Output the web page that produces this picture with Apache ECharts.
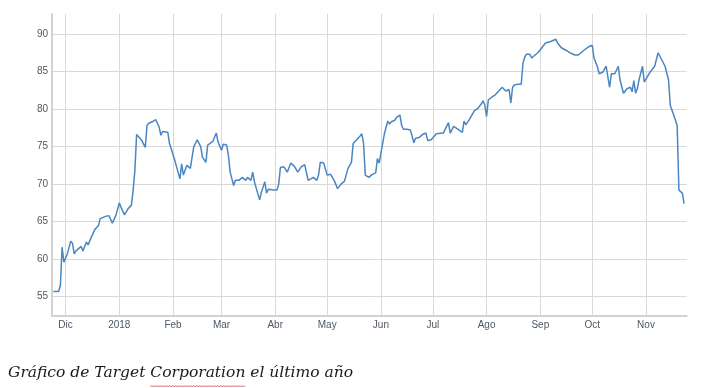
<!DOCTYPE html>
<html><head><meta charset="utf-8">
<script src="https://cdn.jsdelivr.net/npm/echarts@6/dist/echarts.min.js"></script>
<style>html,body{margin:0;padding:0;background:#fff}#c{width:703px;height:388px}</style>
</head><body><div id="c"></div>
<script>
const dates = [
'2017-11-24','2017-11-27','2017-11-28','2017-11-29','2017-11-30','2017-12-02','2017-12-04','2017-12-05','2017-12-06','2017-12-07',
'2017-12-10','2017-12-11','2017-12-13','2017-12-14','2017-12-16','2017-12-18','2017-12-20','2017-12-21','2017-12-24','2017-12-26',
'2017-12-28','2017-12-30','2018-01-01','2018-01-02','2018-01-04','2018-01-06','2018-01-08','2018-01-09','2018-01-10','2018-01-11',
'2018-01-14','2018-01-16','2018-01-17','2018-01-18','2018-01-20','2018-01-22','2018-01-24','2018-01-25','2018-01-26','2018-01-29',
'2018-01-30','2018-01-31','2018-02-02','2018-02-05','2018-02-06','2018-02-07','2018-02-09','2018-02-11','2018-02-13','2018-02-15',
'2018-02-17','2018-02-18','2018-02-20','2018-02-21','2018-02-24','2018-02-26','2018-02-27','2018-03-01','2018-03-02','2018-03-04',
'2018-03-05','2018-03-06','2018-03-08','2018-03-09','2018-03-11','2018-03-13','2018-03-15','2018-03-16','2018-03-18','2018-03-19',
'2018-03-20','2018-03-23','2018-03-24','2018-03-26','2018-03-27','2018-03-28','2018-03-31','2018-04-02','2018-04-03','2018-04-04',
'2018-04-06','2018-04-08','2018-04-10','2018-04-12','2018-04-14','2018-04-16','2018-04-18','2018-04-20','2018-04-21','2018-04-23',
'2018-04-25','2018-04-26','2018-04-27','2018-04-29','2018-05-01','2018-05-03','2018-05-05','2018-05-07','2018-05-09','2018-05-11',
'2018-05-13','2018-05-15','2018-05-16','2018-05-18','2018-05-20','2018-05-21','2018-05-22','2018-05-23','2018-05-25','2018-05-27',
'2018-05-29','2018-05-30','2018-05-31','2018-06-01','2018-06-03','2018-06-05','2018-06-06','2018-06-07','2018-06-09','2018-06-10',
'2018-06-12','2018-06-13','2018-06-14','2018-06-16','2018-06-18','2018-06-19','2018-06-20','2018-06-21','2018-06-23','2018-06-25',
'2018-06-26','2018-06-27','2018-06-28','2018-06-30','2018-07-03','2018-07-07','2018-07-10','2018-07-11','2018-07-13','2018-07-15',
'2018-07-18','2018-07-19','2018-07-20','2018-07-22','2018-07-25','2018-07-27','2018-07-29','2018-07-30','2018-07-31','2018-08-01',
'2018-08-02','2018-08-04','2018-08-06','2018-08-08','2018-08-10','2018-08-12','2018-08-14','2018-08-15','2018-08-16','2018-08-17',
'2018-08-19','2018-08-21','2018-08-22','2018-08-23','2018-08-24','2018-08-26','2018-08-27','2018-08-29','2018-08-31','2018-09-02',
'2018-09-04','2018-09-05','2018-09-07','2018-09-08','2018-09-10','2018-09-11','2018-09-13','2018-09-16','2018-09-18','2018-09-19',
'2018-09-21','2018-09-23','2018-09-24','2018-09-26','2018-09-27','2018-09-29','2018-10-01','2018-10-02','2018-10-04','2018-10-05',
'2018-10-07','2018-10-09','2018-10-11','2018-10-12','2018-10-14','2018-10-15','2018-10-16','2018-10-17','2018-10-19','2018-10-21',
'2018-10-23','2018-10-24','2018-10-25','2018-10-26','2018-10-27','2018-10-28','2018-10-30','2018-10-31','2018-11-01','2018-11-03',
'2018-11-06','2018-11-08','2018-11-10','2018-11-12','2018-11-14','2018-11-15','2018-11-17','2018-11-19','2018-11-20','2018-11-21',
'2018-11-22','2018-11-23'
];
const prices = [
55.7,55.7,56.5,61.6,59.6,60.7,62.4,62.1,60.7,61.1,
61.7,61.1,62.3,61.9,63.0,64.0,64.5,65.4,65.7,65.8,
64.8,65.8,67.5,66.9,65.9,66.7,67.2,69.2,71.8,76.6,
75.8,74.9,77.8,78.1,78.3,78.6,77.6,76.5,77.0,76.9,
75.4,75.4,73.2,70.7,72.7,71.2,72.5,72.1,75.0,75.9,
75.0,73.6,72.9,75.2,75.7,76.8,75.6,74.5,75.3,75.2,
73.8,71.6,69.8,70.5,70.5,70.9,70.5,70.9,70.5,71.6,
70.3,67.9,68.9,70.3,68.8,69.3,69.2,69.2,70.0,72.2,
72.3,71.6,72.8,72.4,71.6,72.3,72.6,70.5,70.6,70.9,
70.5,71.2,72.9,72.8,71.2,71.3,70.5,69.4,70.0,70.4,
72.1,72.9,75.4,75.9,76.4,76.7,75.4,71.2,70.9,71.3,
71.5,73.4,72.8,74.1,76.7,78.4,78.0,78.3,78.5,78.9,
79.2,77.8,77.3,77.3,77.2,76.4,75.5,76.1,76.2,76.6,
76.5,76.8,75.8,75.9,76.7,76.8,78.2,76.8,77.7,77.4,
76.9,78.4,77.9,78.6,79.8,80.1,80.7,81.1,80.5,79.0,
81.2,81.6,81.9,82.4,82.9,82.4,82.6,80.8,82.9,83.2,
83.3,83.3,86.1,86.9,87.3,87.3,86.8,87.2,87.6,88.2,
88.8,88.7,89.0,88.9,89.3,88.8,88.2,87.8,87.5,87.5,
87.2,87.2,87.3,87.8,87.7,88.3,88.5,86.8,85.6,84.7,
84.9,85.7,82.9,84.7,84.7,84.7,85.7,83.9,82.1,82.7,
82.9,82.3,83.8,82.1,82.7,83.9,85.7,83.6,84.0,84.8,
85.7,87.5,86.6,85.7,83.9,80.5,79.2,77.8,69.2,69.3,
68.8,67.4
];
const monthNames = ['Ene','Feb','Mar','Abr','May','Jun','Jul','Ago','Sep','Oct','Nov','Dic'];
const caption = 'Gráfico de Target Corporation el último año';
const captionBefore = 'Gráfico de Target ';
const captionMarked = 'Corporation';

const labelColor = '#4c5863';
const gridColor = '#d9d9d9';
const axisColor = '#d2d2d2';
const captionFont = 'italic 15.5px "DejaVu Serif"';

const chart = echarts.init(document.getElementById('c'), null, {renderer: 'canvas'});

const mctx = document.createElement('canvas').getContext('2d');
mctx.font = captionFont;
const wBefore = mctx.measureText(captionBefore).width;
const wMarked = mctx.measureText(captionMarked).width;
const capX = 8;
const squig = [];
for (let x = capX + wBefore, i = 0; x <= capX + wBefore + wMarked; x += 1.5, i++) {
  squig.push([x, i % 2 ? 385.5 : 387]);
}

chart.setOption({
  animation: false,
  backgroundColor: '#fff',
  grid: {left: 52, right: 16.3, top: 14, bottom: 72, containLabel: false},
  xAxis: {
    type: 'time',
    min: new Date(2017, 10, 23, 4).getTime(),
    max: new Date(2018, 10, 24, 12).getTime(),
    splitNumber: 12,
    axisLine: {show: true, lineStyle: {color: axisColor, width: 2}},
    axisTick: {show: false},
    splitLine: {show: true, showMinLine: false, showMaxLine: false, lineStyle: {color: gridColor, width: 1}},
    axisLabel: {
      color: labelColor, fontSize: 10, fontFamily: 'Liberation Sans, Arial, sans-serif', margin: 4,
      showMinLabel: false, showMaxLabel: false, hideOverlap: false,
      formatter: function (val) {
        const d = new Date(val);
        return d.getMonth() === 0 ? String(d.getFullYear()) : monthNames[d.getMonth()];
      }
    }
  },
  yAxis: {
    type: 'value',
    min: 52.43,
    max: 92.66,
    splitNumber: 8,
    axisLine: {show: true, lineStyle: {color: axisColor, width: 2}},
    axisTick: {show: false},
    splitLine: {show: true, showMinLine: false, showMaxLine: false, lineStyle: {color: gridColor, width: 1}},
    axisLabel: {
      color: labelColor, fontSize: 10, fontFamily: 'Liberation Sans, Arial, sans-serif', margin: 4,
      showMinLabel: false, showMaxLabel: false
    }
  },
  series: [{
    type: 'line',
    data: dates.map((d, i) => [d, prices[i]]),
    showSymbol: false,
    symbol: 'none',
    lineStyle: {color: '#4a86c0', width: 1.5},
    itemStyle: {color: '#4a86c0'}
  }],
  graphic: [
    {
      type: 'text', left: capX, top: 365,
      style: {text: caption, font: captionFont, fill: '#1a1a1a'}
    },
    {
      type: 'polyline', shape: {points: squig},
      style: {stroke: '#d23b3b', lineWidth: 0.8, fill: null}
    }
  ]
});
</script>
</body></html>
